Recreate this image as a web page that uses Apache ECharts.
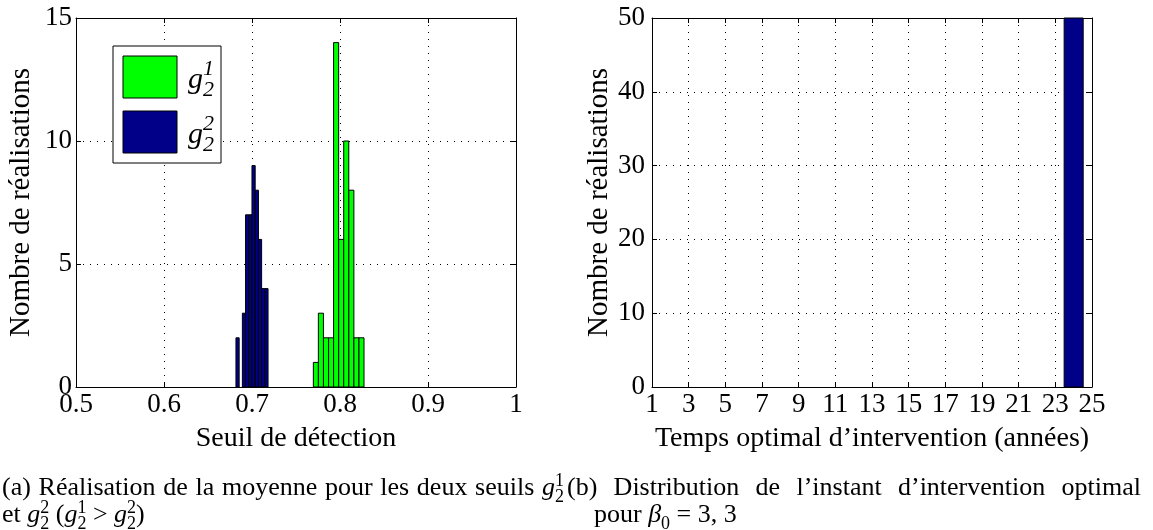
<!DOCTYPE html>
<html>
<head>
<meta charset="utf-8">
<script src="https://cdn.jsdelivr.net/npm/echarts@6/dist/echarts.min.js"></script>
<style>
html, body { margin: 0; padding: 0; background: #fff; }
#main { width: 1153px; height: 530px; }
</style>
</head>
<body>
<div id="main"></div>
<script>
// (a) histogramme des seuils g2^1 / g2^2
var seuilTicks = [0.5, 0.6, 0.7, 0.8, 0.9, 1];
var nbTicksA = [0, 5, 10, 15];
var g21Centres = [0.7726, 0.7783, 0.7841, 0.7899, 0.7956, 0.8014, 0.8071, 0.8129, 0.8187, 0.8244];
var g21Nombre = [1, 3, 2, 2, 14, 6, 10, 8, 2, 2];
var g21Largeur = 0.00576;
var g22Centres = [0.6836, 0.6873, 0.6909, 0.6945, 0.6982, 0.7018, 0.7055, 0.7091, 0.7127, 0.7164];
var g22Nombre = [2, 0, 3, 7, 7, 9, 8, 6, 4, 4];
var g22Largeur = 0.00364;

// (b) instant d'intervention optimal
var tempsTicks = [1, 3, 5, 7, 9, 11, 13, 15, 17, 19, 21, 23, 25];
var nbTicksB = [0, 10, 20, 30, 40, 50];
var tempsCentres = [24];
var tempsNombre = [50];
var tempsLargeur = 1.04;

var police = '"Liberation Serif", "Times New Roman", serif';
var vert = '#00ff00', bleu = '#000088';

var chart = echarts.init(document.getElementById('main'));

//barres d'histogramme dessinees a partir des centres et de la largeur des classes
function barres(largeur, couleur) {
	return function (params, api) {
		var c = api.value(0), n = api.value(1);
		if (!n) return;
		var p0 = api.coord([c - largeur / 2, n]);
		var p1 = api.coord([c + largeur / 2, 0]);
		return {
			type: 'rect',
			shape: { x: p0[0], y: p0[1], width: p1[0] - p0[0], height: p1[1] - p0[1] },
			style: { fill: couleur, stroke: '#000', lineWidth: 1 }
		};
	};
}

function paires(xs, ys) {
	return xs.map(function (x, i) { return [x, ys[i]]; });
}

var grille = { color: '#000', width: 1, type: [1, 6] };

function axeX(g, ticks, pos, nom) {
	var bas = pos === 'bottom';
	return {
		gridIndex: g, type: 'value', position: pos,
		min: ticks[0], max: ticks[ticks.length - 1],
		interval: ticks[1] - ticks[0],
		name: bas ? nom : '', nameLocation: 'middle', nameGap: 38,
		nameTextStyle: { fontFamily: police, fontSize: 28, color: '#000' },
		axisLine: { onZero: false, lineStyle: { color: '#000', width: 1 } },
		axisTick: { show: true, inside: true, length: 5, lineStyle: { color: '#000' }, customValues: ticks },
		axisLabel: { show: bas, margin: 4, fontFamily: police, fontSize: 27, color: '#000', customValues: ticks },
		splitLine: { show: bas, lineStyle: grille }
	};
}

function axeY(g, ticks, pos, nom, gap, marge) {
	var gauche = pos === 'left';
	return {
		gridIndex: g, type: 'value', position: pos,
		min: ticks[0], max: ticks[ticks.length - 1],
		interval: ticks[1] - ticks[0],
		name: gauche ? nom : '', nameLocation: 'middle', nameGap: gap,
		nameTextStyle: { fontFamily: police, fontSize: 29, color: '#000' },
		axisLine: { show: true, onZero: false, lineStyle: { color: '#000', width: 1 } },
		axisTick: { show: true, inside: true, length: 5, lineStyle: { color: '#000' }, customValues: ticks },
		axisLabel: { show: gauche, margin: marge, fontFamily: police, fontSize: 27, color: '#000', customValues: ticks },
		splitLine: { show: gauche, lineStyle: grille }
	};
}

// legendes (a) et (b) : texte place mot a mot, avec indices et exposants
var ctx = document.createElement('canvas').getContext('2d');
function largeurTexte(t, font) { ctx.font = font; return ctx.measureText(t).width; }

var stCapt = { fs: 26, fi: 18, up: 10, dn: 6, indItal: false };
var stLeg = { fs: 30, fi: 22, up: 13, dn: 8, indItal: true };

function fonte(k, st) {
	if (k === 'i') return 'italic ' + st.fs + 'px ' + police;
	if (k === '^' || k === '_') return (st.indItal ? 'italic ' : '') + st.fi + 'px ' + police;
	return st.fs + 'px ' + police;
}

function mot(pieces, x, base, out, st) {
	if (typeof pieces === 'string') pieces = [[pieces, 'r']];
	var cx = x, supX = null, supW = 0;
	pieces.forEach(function (p) {
		var t = p[0], k = p[1] || 'r';
		var f = fonte(k, st);
		var taille = (k === '^' || k === '_') ? st.fi : st.fs;
		var dy = k === '^' ? -st.up : (k === '_' ? st.dn : 0);
		var w = largeurTexte(t, f);
		var px = cx;
		if (k === '_' && supX !== null) {
			px = supX; cx = supX + Math.max(supW, w); supX = null;
		} else if (k === '^') {
			supX = cx; supW = w; cx += w;
		} else {
			cx += w; supX = null;
		}
		if (out) out.push({
			type: 'text', x: px, y: base + dy - 0.34 * taille, silent: true,
			style: { text: t, font: f, fill: '#000', align: 'left', verticalAlign: 'middle', textAlign: 'left', textVerticalAlign: 'middle' }
		});
	});
	return cx - x;
}

function ligne(mots, x0, x1, base, justifie, out) {
	var ws = mots.map(function (m) { return mot(m, 0, 0, null, stCapt); });
	var total = ws.reduce(function (a, b) { return a + b; }, 0);
	var gap = justifie ? (x1 - x0 - total) / (mots.length - 1) : largeurTexte(' ', fonte('r', stCapt));
	var x = x0;
	mots.forEach(function (m, i) { mot(m, x, base, out, stCapt); x += ws[i] + gap; });
}

var g21 = [['g', 'i'], ['1', '^'], ['2', '_']];
var g22 = [['g', 'i'], ['2', '^'], ['2', '_']];

var elements = [];
ligne(['(a)', 'Réalisation', 'de', 'la', 'moyenne', 'pour', 'les', 'deux', 'seuils', g21], 2, 564, 497, true, elements);
ligne(['et', g22, [['(', 'r']].concat(g21), '>', g22.concat([[')', 'r']])], 2, 560, 524, false, elements);
ligne(['(b)', 'Distribution', 'de', 'l’instant', 'd’intervention', 'optimal'], 567, 1141, 497, true, elements);
ligne(['pour', [['β', 'i'], ['0', '_']], '=', '3,', '3'], 594, 1141, 524, false, elements);

// cadre de legende du graphe (a)
elements.push({ type: 'rect', shape: { x: 113, y: 46, width: 108, height: 117 }, style: { fill: '#fff', stroke: '#000', lineWidth: 1 }, z: 10 });
elements.push({ type: 'rect', shape: { x: 123, y: 56, width: 54, height: 42 }, style: { fill: vert, stroke: '#000', lineWidth: 1 }, z: 11 });
elements.push({ type: 'rect', shape: { x: 123, y: 111, width: 54, height: 42 }, style: { fill: bleu, stroke: '#000', lineWidth: 1 }, z: 11 });
var leg = [];
mot(g21, 188, 90, leg, stLeg);
mot(g22, 188, 145, leg, stLeg);
leg.forEach(function (e) { e.z = 12; elements.push(e); });

var option = {
	animation: false,
	backgroundColor: '#fff',
	grid: [
		{ left: 76, top: 18, width: 440, height: 369 },
		{ left: 652, top: 18, width: 440, height: 369 }
	],
	xAxis: [
		axeX(0, seuilTicks, 'bottom', 'Seuil de détection'),
		axeX(0, seuilTicks, 'top'),
		axeX(1, tempsTicks, 'bottom', 'Temps optimal d’intervention (années)'),
		axeX(1, tempsTicks, 'top')
	],
	yAxis: [
		axeY(0, nbTicksA, 'left', 'Nombre de réalisations', 40, 4),
		axeY(0, nbTicksA, 'right'),
		axeY(1, nbTicksB, 'left', 'Nombre de réalisations', 35, 7),
		axeY(1, nbTicksB, 'right')
	],
	series: [
		{ type: 'custom', name: 'g21', xAxisIndex: 0, yAxisIndex: 0, renderItem: barres(g21Largeur, vert), encode: { x: 0, y: 1 }, data: paires(g21Centres, g21Nombre) },
		{ type: 'custom', name: 'g22', xAxisIndex: 0, yAxisIndex: 0, renderItem: barres(g22Largeur, bleu), encode: { x: 0, y: 1 }, data: paires(g22Centres, g22Nombre) },
		{ type: 'custom', name: 'temps', xAxisIndex: 2, yAxisIndex: 2, renderItem: barres(tempsLargeur, bleu), encode: { x: 0, y: 1 }, data: paires(tempsCentres, tempsNombre) }
	],
	graphic: { elements: elements }
};
chart.setOption(option);
</script>
</body>
</html>
